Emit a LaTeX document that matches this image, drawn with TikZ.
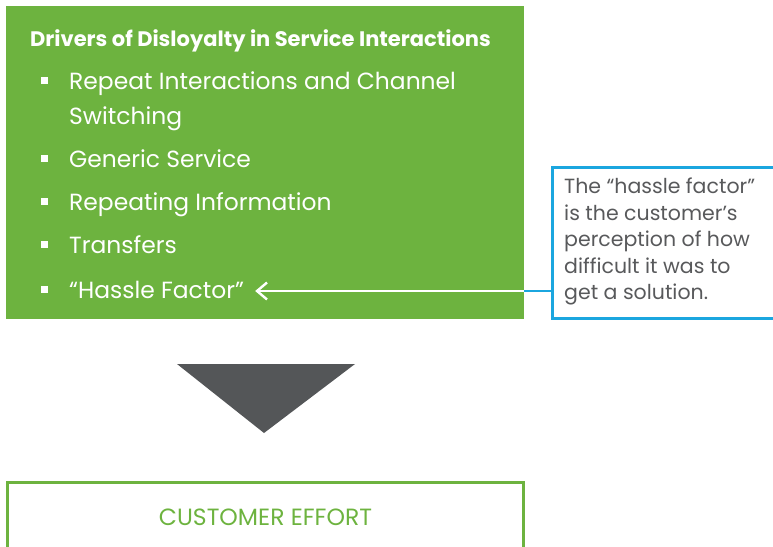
\documentclass[tikz,border=0pt]{standalone}
\usepackage{fontspec}
\setmainfont{Poppins}
\usetikzlibrary{arrows.meta}

\definecolor{drvgreen}{HTML}{6DB33F}
\definecolor{calloutblue}{HTML}{1BA6DF}
\definecolor{arrowgray}{HTML}{545658}
\definecolor{notegray}{HTML}{58595B}

\tikzset{
	item/.style = {anchor=base west, inner sep=0, text=white,
		font=\fontsize{23.4}{28}\selectfont},
	bullet/.style = {fill=white, minimum size=7pt, inner sep=0},
}

\begin{document}
\begin{tikzpicture}[x=1pt, y=-1pt]
		\useasboundingbox (0,0) rectangle (773,546);

		% green panel with the drivers
		\fill[drvgreen] (6,6) rectangle (524,319);
		\coordinate (panelE) at (524,291);

		\node[anchor=base west, inner sep=0, text=white,
			font=\bfseries\fontsize{21}{24}\selectfont] at (30,46) (title)
			{Drivers of Disloyalty in Service Interactions};

		\node[item] at (69,89) (repeat) {Repeat Interactions and Channel};
		\node[item] at (69,124) (switch) {Switching};
		\node[item] at (69,167) (generic) {Generic Service};
		\node[item] at (69,210) (info) {Repeating Information};
		\node[item] at (69,253) (transfer) {Transfers};
		\node[item] at (69,298) (hassle) {“Hassle Factor”};

		\foreach \y in {80,158,201,244,289}
			\node[bullet] at (44,\y) {};

		% side note
		\node[draw=calloutblue, line width=2.6pt, anchor=north west,
			minimum width=225, minimum height=151, inner sep=0] at (551,166) (note) {};
		\node[anchor=north west, align=left, text=notegray, inner sep=0,
			font=\fontsize{20.5}{26.5}\selectfont] at (564,178) (notetext)
			{The “hassle factor”\\ is the customer’s\\ perception of how\\ difficult it was to\\ get a solution.};

		\draw[calloutblue, line width=2.6pt] (note.west |- panelE) -- (panelE);
		\draw[white, line width=2.4pt, -{Straight Barb[length=10pt, width=17pt]}]
			(panelE) -- ([xshift=11pt]hassle.east |- panelE);

		% down arrow
		\fill[arrowgray] (177,364) -- (355,364) -- (264,433) -- cycle;

		% result box
		\draw[drvgreen, line width=3pt] (7.5,548) -- (7.5,482.5) -- (523.5,482.5) -- (523.5,548);
		\node[text=drvgreen, font=\fontsize{23.5}{26}\selectfont, anchor=base,
			inner sep=0] at (265.5,525) (effort) {CUSTOMER EFFORT};
\end{tikzpicture}
\end{document}
